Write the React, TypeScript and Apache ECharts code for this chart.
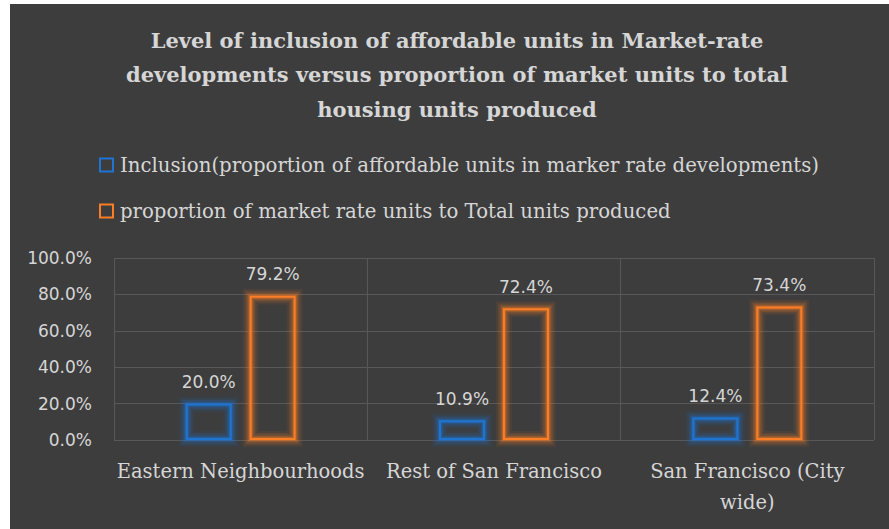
import React, { useEffect, useRef } from "react";
import * as echarts from "echarts";

const categories = ["Eastern Neighbourhoods", "Rest of San Francisco", "San Francisco (City wide)"];
const inclusionValues = [0.2, 0.109, 0.124];
const marketValues = [0.792, 0.724, 0.734];
const seriesNames = [
  "Inclusion(proportion of affordable units in marker rate developments)",
  "proportion of market rate units to Total units produced",
];
const titleText =
  "Level of inclusion of affordable units in Market-rate\ndevelopments versus proportion of market units to total\nhousing units produced";

const BLUE = "#1f74d2";
const ORANGE = "#fb7d26";
const BLUE_RGB = "31,116,210";
const ORANGE_RGB = "251,125,38";
const TEXT = "#d6d6d6";
const GRID = "#585858";
const SERIF = "'DejaVu Serif', serif";
const SANS = "'DejaVu Sans', sans-serif";
const BAR_WIDTH = 46;
const BAR_GAP = 0.39;

export default function App() {
  const ref = useRef<HTMLDivElement>(null);
  useEffect(() => {
    if (!ref.current) return;
    const chart = echarts.init(ref.current, null, { renderer: "svg" });
    const pct = (v: number) => (v * 100).toFixed(1) + "%";
    const makeSeries = (name: string, data: number[], color: string) => ({
      name,
      type: "bar",
      data,
      barWidth: BAR_WIDTH,
      barGap: BAR_GAP * 100 + "%",
      z: 3,
      itemStyle: {
        color: "rgba(0,0,0,0)",
        borderColor: color,
        borderWidth: 2,
      },
      label: {
        show: true,
        position: "top",
        distance: 13,
        formatter: (p: any) => pct(p.value),
        color: TEXT,
        fontFamily: SANS,
        fontSize: 17,
      },
    });
    const makeGlow = (data: number[], rgb: string, side: number) => ({
      type: "custom",
      silent: true,
      z: 2,
      data: data.map((v, i) => [i, v]),
      renderItem: (params: any, api: any) => {
        const top = api.coord([api.value(0), api.value(1)]);
        const base = api.coord([api.value(0), 0]);
        const offset = side * (BAR_WIDTH + BAR_WIDTH * BAR_GAP) / 2;
        const x = top[0] + offset - BAR_WIDTH / 2 + 1;
        const y = top[1] + 1;
        const w = BAR_WIDTH - 2;
        const h = base[1] - top[1] - 2;
        const layers = [
          { lw: 16, a: 0.07 },
          { lw: 12, a: 0.1 },
          { lw: 9, a: 0.14 },
          { lw: 6, a: 0.2 },
          { lw: 4, a: 0.3 },
        ];
        return {
          type: "group",
          children: layers.map((l) => ({
            type: "rect",
            shape: { x, y, width: w, height: Math.max(h, 0) },
            style: { fill: "none", stroke: `rgba(${rgb},${l.a})`, lineWidth: l.lw },
          })),
        };
      },
    });
    chart.setOption({
      animation: false,
      backgroundColor: "#3d3d3d",
      title: {
        text: titleText,
        left: 447,
        top: 19,
        padding: 0,
        textAlign: "center",
        textStyle: {
          color: TEXT,
          fontFamily: SERIF,
          fontWeight: "bold",
          fontSize: 21,
          lineHeight: 34.5,
        },
      },
      legend: {
        orient: "vertical",
        left: 89,
        top: 151,
        padding: 0,
        itemWidth: 13,
        itemHeight: 13,
        itemGap: 26,
        icon: "rect",
        textStyle: {
          color: TEXT,
          fontFamily: SERIF,
          fontSize: 19.7,
          lineHeight: 20,
          padding: [0, 0, 0, 2],
        },
        data: [
          { name: seriesNames[0], itemStyle: { color: "rgba(0,0,0,0)", borderColor: BLUE, borderWidth: 2 } },
          { name: seriesNames[1], itemStyle: { color: "rgba(0,0,0,0)", borderColor: ORANGE, borderWidth: 2 } },
        ],
      },
      grid: { left: 104, right: 15, top: 254, bottom: 89 },
      xAxis: {
        type: "category",
        data: categories,
        axisLine: { show: false },
        axisTick: { show: false },
        splitLine: { show: true, lineStyle: { color: GRID, width: 1 } },
        axisLabel: {
          color: TEXT,
          fontFamily: SERIF,
          fontSize: 19.5,
          lineHeight: 31,
          margin: 16,
          interval: 0,
          formatter: (v: string) => v.replace("(City ", "(City\n"),
        },
      },
      yAxis: {
        type: "value",
        min: 0,
        max: 1,
        interval: 0.2,
        axisLine: { show: false },
        axisTick: { show: false },
        splitLine: { show: true, lineStyle: { color: GRID, width: 1 } },
        axisLabel: {
          color: TEXT,
          fontFamily: SANS,
          fontSize: 17,
          margin: 22,
          formatter: (v: number) => pct(v),
        },
      },
      series: [
        makeSeries(seriesNames[0], inclusionValues, BLUE),
        makeSeries(seriesNames[1], marketValues, ORANGE),
        makeGlow(inclusionValues, BLUE_RGB, -1),
        makeGlow(marketValues, ORANGE_RGB, 1),
      ],
    });
    return () => chart.dispose();
  }, []);
  return (
    <div style={{ position: "fixed", left: 0, top: 0, width: 889, height: 529, background: "#ffffff" }}>
      <div ref={ref} style={{ position: "absolute", left: 10, top: 4, width: 879, height: 525 }} />
    </div>
  );
}
